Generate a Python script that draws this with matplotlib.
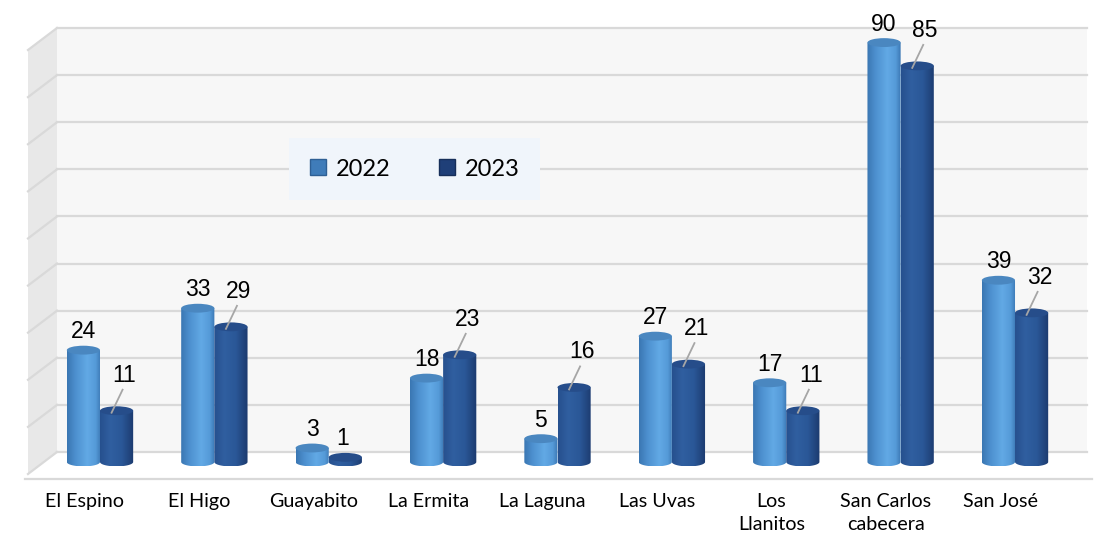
import numpy as np
import matplotlib.pyplot as plt
from matplotlib.colors import LinearSegmentedColormap
from matplotlib.patches import Ellipse, PathPatch, Polygon
from matplotlib.path import Path
from matplotlib.lines import Line2D
import matplotlib.transforms as mtransforms

# datos
categorias = ['El Espino', 'El Higo', 'Guayabito', 'La Ermita', 'La Laguna',
              'Las Uvas', 'Los\nLlanitos', 'San Carlos\ncabecera', 'San José']
valores_2022 = [24, 33, 3, 18, 5, 27, 17, 90, 39]
valores_2023 = [11, 29, 1, 23, 16, 21, 11, 85, 32]
series = ['2022', '2023']

W, H = 1107, 543
fig = plt.figure(figsize=(W / 100, H / 100), dpi=100)
fig.patch.set_facecolor('white')

# pared del fondo con lineas de cuadricula
ax_bg = fig.add_axes([57 / W, 1 - 452 / H, 1030 / W, 424 / H])
ax_bg.set_facecolor('#f7f7f7')
ax_bg.set_ylim(0, 90)
ax_bg.set_xlim(0, 1)
ax_bg.set_yticks(np.arange(0, 91, 10))
ax_bg.set_xticks([])
ax_bg.tick_params(left=False, labelleft=False)
ax_bg.grid(axis='y', color='#d9d9d9', lw=1.6)
for s in ax_bg.spines.values():
    s.set_visible(False)
for gl in ax_bg.get_ygridlines():
    gl.set_clip_on(False)

# pared lateral izquierda (perspectiva)
trans = mtransforms.blended_transform_factory(ax_bg.transAxes, ax_bg.transData)
dx = -29 / 1030
dy = -22 / (424 / 90)
wall = Polygon([(0, 90), (dx, 90 + dy), (dx, dy), (0, 0)], closed=True,
               facecolor='#e8e8e8', edgecolor='none', transform=trans, clip_on=False, zorder=0.5)
ax_bg.add_patch(wall)
for v in ax_bg.get_yticks():
    ax_bg.add_line(Line2D([dx, 0], [v + dy, v], color='#d9d9d9', lw=1.6,
                          transform=trans, clip_on=False, zorder=1))
# borde frontal del piso
fy = -27 / (424 / 90)
ax_bg.add_line(Line2D([(25 - 57) / 1030, (1092 - 57) / 1030], [fy, fy], color='#d9d9d9',
                      lw=1.6, transform=trans, clip_on=False))

# ejes de las barras
ax = fig.add_axes([42.8 / W, 0.1063, 1029.4 / W, 0.8582])
ax.patch.set_alpha(0)
ax.axis('off')

cmap22 = LinearSegmentedColormap.from_list('c22', [
    (0.0, '#3a76b2'), (0.25, '#4d90cf'), (0.6, '#62a9e5'), (0.85, '#559ad8'), (1.0, '#3b77b4')])
cmap23 = LinearSegmentedColormap.from_list('c23', [
    (0.0, '#26508e'), (0.3, '#305fa0'), (0.65, '#2a5797'), (1.0, '#1c3a6e')])
top22 = '#4a87c0'
top23 = '#264d8a'

bw = 0.29
e = 0.95
grad = np.linspace(0, 1, 128).reshape(1, -1)


def cilindro(xc, v, cmap, topc):
    x0, x1 = xc - bw / 2, xc + bw / 2
    t = np.linspace(np.pi, 2 * np.pi, 40)
    verts = [(x0, v)] + [(xc + bw / 2 * np.cos(a), e * np.sin(a)) for a in t] + [(x1, v), (x0, v)]
    codes = [Path.MOVETO] + [Path.LINETO] * (len(verts) - 2) + [Path.CLOSEPOLY]
    body = PathPatch(Path(verts, codes), facecolor='none', edgecolor='none',
                     transform=ax.transData)
    ax.add_patch(body)
    im = ax.imshow(grad, cmap=cmap, extent=[x0, x1, -e, v], aspect='auto',
                   interpolation='bilinear', zorder=2)
    im.set_clip_path(body)
    ax.add_patch(Ellipse((xc, v), bw, 2 * e, facecolor=topc, edgecolor='none', zorder=2.5))


x = np.arange(len(categorias))
for i in range(len(categorias)):
    cilindro(x[i] - bw / 2, valores_2022[i], cmap22, top22)
    cilindro(x[i] + bw / 2, valores_2023[i], cmap23, top23)

ax.set_xlim(-0.5, 8.5)
ax.set_ylim(-5, 95)

lbl_font = dict(family=['Liberation Sans', 'DejaVu Sans'], fontsize=16.5, color='black')
for i in range(len(categorias)):
    v = valores_2022[i]
    ax.annotate(str(v), (x[i] - bw / 2, v), xytext=(0, 12), textcoords='offset pixels',
                ha='center', va='baseline', **lbl_font)
    v = valores_2023[i]
    if v >= 5:
        ax.annotate(str(v), (x[i] + bw / 2, v), xytext=(8, 29), textcoords='offset pixels',
                    ha='center', va='baseline', **lbl_font)
        p0 = ax.transData.transform((x[i] + bw / 2, v))
        inv = ax.transData.inverted()
        a = inv.transform(p0 + np.array([-5, -2]))
        b = inv.transform(p0 + np.array([6, 21]))
        ax.add_line(Line2D([a[0], b[0]], [a[1], b[1]], color='#a6a6a6', lw=1.3, zorder=3))
    else:
        ax.annotate(str(v), (x[i] + bw / 2, v), xytext=(-3, 12), textcoords='offset pixels',
                    ha='center', va='baseline', **lbl_font)

# etiquetas de categorias
for i, c in enumerate(categorias):
    ax.annotate(c, (x[i], 0), xytext=(-15, -31), textcoords='offset pixels',
                ha='center', va='top', family=['Lato', 'DejaVu Sans'], fontsize=14.2,
                linespacing=1.45, color='black')

# leyenda
handles = [Line2D([], [], marker='s', ls='none', markersize=11, markerfacecolor='#3f7cb9',
                  markeredgecolor='#2e5f94'),
           Line2D([], [], marker='s', ls='none', markersize=11, markerfacecolor='#1f3f78',
                  markeredgecolor='#172f5a')]
leg = fig.legend(handles, series, loc='center', bbox_to_anchor=((290 + 539) / 2 / W, 1 - 169 / H),
                 ncol=2, frameon=True, fancybox=False, handlelength=0.8, handletextpad=0.35,
                 columnspacing=2.0, borderpad=0.85,
                 prop={'family': ['Lato', 'DejaVu Sans'], 'size': 17})
leg.get_frame().set_facecolor('#f0f5fb')
leg.get_frame().set_edgecolor('none')
leg.get_frame().set_alpha(1)

fig.savefig('out.png', dpi=100)
